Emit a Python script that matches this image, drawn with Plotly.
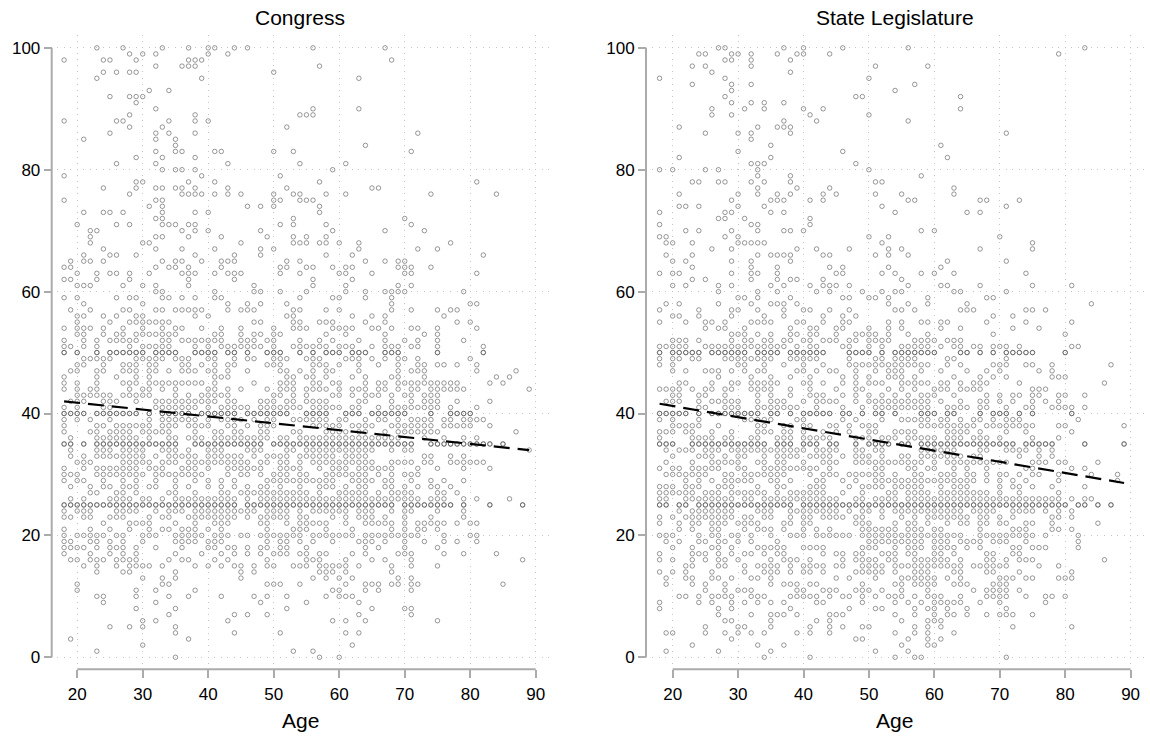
import plotly.graph_objects as go

TITLES = ["Congress", "State Legislature"]
X_LABEL = "Age"
X_TICKS = [20, 30, 40, 50, 60, 70, 80, 90]
Y_TICKS = [0, 20, 40, 60, 80, 100]
FIT_AGE = [18, 89]
FIT_CONGRESS = [42.0, 34.0]
FIT_STATE = [41.6, 28.6]
HEAVY_ROWS = [25, 35, 40, 50]

# Congress: ages observed at each share value
c_100 = [23,27,33,37,40,41,44,46,56,67]
c_099 = [28,30,32,40,43]
c_098 = [18,24,25,29,37,38,39,68]
c_097 = [32,36,37,38,57]
c_096 = [24,26,28,29,50]
c_095 = [23,39,63]
c_093 = [31,34]
c_092 = [25,28,29,30]
c_091 = [29]
c_090 = [32,56,63]
c_089 = [28,38,54,55,56]
c_088 = [18,26,27,34,38,40]
c_087 = [28,33,52]
c_086 = [25,32,34,38,72]
c_085 = [21,32,35]
c_084 = [35,64]
c_083 = [32,35,36,41,42,50,53,71]
c_082 = [29,33,38]
c_081 = [26,32,43,54,61]
c_080 = [33,35,36,38,59]
c_079 = [18,39,51]
c_078 = [29,30,37,41,57,81]
c_077 = [24,29,32,33,35,36,38,43,52,65,66]
c_076 = [28,36,37,38,39,41,43,45,50,53,54,58,61,74,84]
c_075 = [18,32,33,50,51,54,55,56]
c_074 = [31,33,46,48,50,57]
c_073 = [21,24,25,27,33,38,40,57]
c_072 = [32,33,53,70]
c_071 = [20,26,28,33,34,35,37,38,51,53,58,71]
c_070 = [22,23,36,38,40,48,59,67,73]
c_069 = [22,32,33,37,42,49,53,55,58]
c_068 = [22,30,31,45,53,54,55,57,58,60,63,77]
c_067 = [24,32,36,41,48,50,63,72,75]
c_066 = [21,25,26,29,38,44,48,58,62,82]
c_065 = [19,21,22,24,33,35,36,39,42,43,44,52,54,64,67,69,70]
c_064 = [18,19,32,34,35,37,42,51,52,55,56,59,61,62,69,70,71,74]
c_063 = [20,23,25,26,28,31,36,37,38,41,43,44,45,51,54,60,61,65,70,71,81]
c_062 = [18,19,23,28,37,44,56,62]
c_061 = [20,21,22,27,30,32,37,47,56,61,69,71]
c_060 = [32,33,41,47,48,51,55,61,64,67,68,69,70,79]
c_059 = [18,20,26,28,29,33,34,36,38,41,42,54,59,60,64,68]
c_058 = [21,30,43,46,48,52,68,80,81]
c_057 = [19,22,27,28,32,33,35,36,37,38,39,43,45,46,47,53,54,58,60,68,71,75,77,78]
c_056 = [20,21,24,26,29,30,38,40,52,53,62,65,67,76]
c_055 = [20,25,28,29,30,31,32,33,34,47,48,53,54,57,58,59,64,67,78,80]
c_054 = [18,20,21,22,24,27,30,33,35,36,39,42,45,50,53,54,55,59,60,61,62,65,66,68,71,72,75,81]
c_053 = [20,21,24,26,27,29,30,31,32,33,34,35,41,42,45,47,48,50,51,58,61,67,73,75]
c_052 = [18,21,23,25,26,27,28,29,33,34,36,37,38,39,40,41,42,45,46,47,49,50,54,57,59,63,67,70,72,75,79]
c_051 = [18,19,21,23,28,30,31,32,33,34,38,40,42,43,44,45,46,47,48,50,53,54,55,56,57,58,60,61,62,65,67,68,69,71,72,75,82]
c_050 = [18,20,23,25,26,27,28,29,30,32,33,34,35,38,39,40,41,43,44,46,49,50,51,54,56,58,59,60,62,63,64,67,68,69,75,82]
c_049 = [21,22,23,24,25,29,30,31,32,33,35,36,37,40,41,44,46,47,50,51,52,55,56,57,61,62,63,65,67,69,70,72,80]
c_048 = [20,21,24,27,28,29,31,32,36,37,39,41,43,44,49,50,51,56,57,58,60,63,66,69,72,73,75,76,78,81]
c_047 = [19,20,23,24,27,28,29,31,32,34,36,37,38,40,41,43,46,51,52,54,56,58,59,63,69,71,72,73,81,87]
c_046 = [18,23,26,29,31,41,42,43,52,53,55,56,58,62,64,68,69,73,84,86]
c_045 = [18,20,23,27,28,29,31,32,33,34,35,36,37,38,39,41,47,51,52,53,56,57,59,60,64,66,67,69,70,71,72,73,74,75,76,77,78,83,85]
c_044 = [18,20,22,23,28,30,31,33,35,40,41,43,45,49,51,52,53,55,56,57,58,60,62,63,64,66,67,69,71,72,74,75,76,77,78,79,89]
c_043 = [20,21,22,23,24,25,27,28,29,30,31,35,37,39,40,41,42,43,50,51,53,55,59,60,62,64,65,66,68,70,71,73,74,75]
c_042 = [19,20,21,24,25,26,29,32,33,34,35,36,37,38,39,40,41,43,44,48,49,50,52,53,55,56,57,58,63,64,68,71,73,74,75,78,83]
c_041 = [18,20,24,25,32,33,34,35,36,37,38,40,42,43,44,45,46,48,49,50,51,52,53,54,56,57,58,59,60,62,63,66,68,69,70,71,72,73,74,75,77,81]
c_040 = [18,19,20,21,23,24,25,26,27,28,29,31,33,34,35,36,37,39,40,41,42,43,44,46,47,48,49,50,51,52,55,56,57,58,61,62,63,65,66,67,68,69,70,74,77,78,79,80]
c_039 = [18,20,22,25,31,33,34,35,36,37,38,40,42,43,44,45,47,49,50,53,54,55,56,57,58,60,61,64,66,67,69,71,72,73,74,76,77,79,80,81,82]
c_038 = [18,23,24,26,27,28,29,30,31,33,34,35,37,38,39,40,43,44,46,48,49,50,56,57,58,59,60,62,63,64,65,68,69,70,71,72,73,74,76,77,78,79,80,83]
c_037 = [18,22,23,25,26,27,28,30,31,32,33,34,38,41,42,44,45,48,49,53,54,58,59,60,61,63,64,67,69,70,71,72,73,74,75,87]
c_036 = [19,23,24,25,26,27,28,29,31,34,35,37,38,39,41,42,43,44,45,46,47,48,49,51,52,54,55,56,57,58,59,60,61,62,63,64,65,66,67,68,69,73,76,79,81]
c_035 = [18,19,21,23,24,25,26,27,28,29,30,31,32,33,34,35,38,39,40,41,42,43,44,45,46,47,48,50,51,52,53,54,55,56,57,58,59,60,61,62,63,64,65,66,67,68,69,70,71,74,75,76,77,78,79,80,81,82,83,85]
c_034 = [19,23,24,25,27,28,29,30,33,34,35,37,40,41,42,46,47,48,52,53,55,56,57,58,59,60,61,62,63,64,65,68,70,71,89]
c_033 = [19,21,23,24,25,26,27,28,29,30,32,34,35,36,37,38,40,41,42,43,44,45,47,49,50,51,52,54,55,56,57,58,59,61,62,63,64,73,74,77,79]
c_032 = [20,21,22,27,28,29,30,31,33,34,35,37,38,39,40,41,42,43,44,45,46,48,49,51,52,54,56,57,58,59,60,61,62,63,64,65,68,69,70,71,73,74,77,78,79,80,81,82]
c_031 = [18,21,23,24,25,26,27,28,29,31,32,33,36,37,38,40,43,44,45,46,47,48,51,52,53,54,57,59,60,61,63,64,65,66,67,68,72,75,79,83]
c_030 = [18,19,20,23,24,25,26,27,28,29,30,32,33,34,35,36,37,38,39,43,45,46,48,50,51,52,54,55,58,59,60,61,62,63,64,66,68,70,71,72]
c_029 = [18,20,21,24,27,29,32,35,38,40,42,44,49,50,51,52,53,54,55,56,57,58,59,62,63,64,65,67,68,71,74,76,79]
c_028 = [19,22,24,25,27,28,29,31,32,35,37,40,42,44,46,48,49,51,54,57,58,59,61,63,64,67,68,70,72,74,75,77]
c_027 = [22,23,26,27,29,34,35,38,42,43,45,46,47,48,49,50,51,52,53,54,55,57,60,61,62,63,64,66,68,69,70,71,75,76,78]
c_026 = [19,21,25,26,27,28,30,31,33,35,36,37,38,39,40,41,42,43,44,46,48,49,50,51,52,53,54,55,56,57,58,59,60,61,62,63,64,65,66,67,68,69,70,71,72,74,75,76,79,81,86]
c_025 = [18,19,20,21,22,23,24,25,26,27,28,29,30,31,32,33,34,35,36,37,38,39,40,41,42,43,44,46,47,48,49,50,51,52,53,54,55,56,57,58,59,60,61,62,63,64,65,66,67,68,70,71,72,73,74,75,76,77,79,83,88]
c_024 = [18,20,21,22,26,27,28,29,32,34,35,36,38,39,40,41,42,43,44,45,46,47,49,50,51,52,54,56,57,58,59,60,61,63,64,65,68,70,71,75,79]
c_023 = [18,19,21,22,25,26,27,31,33,34,37,38,39,40,41,42,43,44,46,48,49,50,51,52,54,55,59,61,63,64,65,67,70,74,79]
c_022 = [24,28,29,30,31,35,38,41,42,43,48,49,52,54,55,56,57,58,61,64,65,66,67,68,70,72,73,74,75,76,78,80,81]
c_021 = [18,22,25,28,31,33,34,36,37,38,40,42,49,53,54,55,58,62,68,70,72,73,75]
c_020 = [18,20,21,22,23,24,26,27,30,31,32,35,36,37,38,39,41,42,43,45,46,48,49,50,51,52,53,54,56,57,58,59,60,61,62,64,65,66,67,68,69,70,71,72,76,80,81]
c_019 = [18,19,22,23,25,27,30,35,36,37,38,40,41,42,49,51,52,54,56,59,63,64,65,67,70,73,76,78,81]
c_018 = [18,19,20,21,23,25,26,27,29,32,36,40,41,43,44,46,48,49,51,52,55,64,66,70,75]
c_017 = [18,22,25,27,29,35,39,42,44,46,48,50,51,52,54,55,57,58,62,64,69,70,71,76,79,84]
c_016 = [19,20,22,23,24,26,27,28,29,34,36,37,41,43,49,55,56,57,61,65,67,71,88]
c_015 = [21,23,26,28,29,30,31,33,38,40,42,44,45,47,49,50,53,54,55,57,58,59,60,61,63,68,71,75]
c_014 = [23,27,28,35,45,47,57,58,59,61,68]
c_013 = [30,33,35,45,56,58,60,62,69,71]
c_012 = [20,33,34,49,50,51,54,61,64,65,66,68,69,71,72,85]
c_011 = [20,29,32,38,59,60,64,66,71]
c_010 = [23,24,29,34,37,42,47,49,52,58,60,61,62]
c_009 = [24,32,48,55,63]
c_008 = [29,35,52,65,70,71]
c_007 = [34,44,46,49,63,71]
c_006 = [30,32,43,59,61,64,75]
c_005 = [25,28,30,35]
c_004 = [35,44,51,61,63]
c_003 = [19,37]
c_002 = [30,62]
c_001 = [23,53,56]
c_000 = [35,57,60]

# State legislature: ages observed at each share value
s_100 = [27,28,37,40,46,56,83]
s_099 = [24,25,29,30,32,36,39,40,44,79]
s_098 = [28,29,32,38]
s_097 = [23,25,32,51,59]
s_096 = [26,38]
s_095 = [18,28,50]
s_094 = [23,29,32,57]
s_093 = [29,54]
s_092 = [28,48,49,64]
s_091 = [29,32,34,37]
s_090 = [26,31,34,40,43,64]
s_089 = [26,29,41,50]
s_088 = [37,42,56]
s_087 = [21,33,36,37,38]
s_086 = [25,30,32,38,71]
s_085 = [32]
s_084 = [35,61]
s_083 = [30,46]
s_082 = [21,35,62]
s_081 = [32,33,34,48]
s_080 = [18,20,25,27,33,50]
s_079 = [33,38,58]
s_078 = [23,24,27,28,32,34,38,51,52]
s_077 = [33,39,44,63]
s_076 = [21,30,33,36,38,43,45,51,55,63]
s_075 = [29,35,36,37,41,43,56,57,67,68,73]
s_074 = [21,22,24,30,34,52,71]
s_073 = [18,28,29,35,37,54,65,67]
s_072 = [27,28,31,41]
s_071 = [18,32,33,41]
s_070 = [22,24,29,33,37,38,40,58,60]
s_069 = [18,19,28,30,50,53,70]
s_068 = [19,20,23,30,31,32,33,34,52,75]
s_067 = [26,29,39,42,47,53,55,67,75]
s_066 = [19,23,33,35,36,37,38,43,44,51,53,56]
s_065 = [20,22,29,32,38,62,71]
s_064 = [23,32,36,44,46,53,61]
s_063 = [18,20,21,29,32,33,36,45,46,52,54,58,60,63,74]
s_062 = [23,25,32,36,38,39,43,55]
s_061 = [20,22,27,29,35,37,41,43,44,45,47,56,61,62,67,75,81]
s_060 = [27,33,36,42,44,49,52,54,55,63,64,71]
s_059 = [30,31,33,38,46,47,50,51,53,59,68,69]
s_058 = [19,21,27,32,35,36,37,39,53,56,59,65,84]
s_057 = [18,24,29,30,33,37,40,41,44,47,54,55,57,64,65,66,74,75,77]
s_056 = [20,21,24,29,34,37,43,46,48,69,72]
s_055 = [18,22,25,26,28,32,33,34,35,39,40,43,46,47,53,55,58,59,61,62,68,74,81]
s_054 = [25,27,28,31,38,41,42,45,46,50,53,55,61,64,72,76]
s_053 = [29,30,31,33,35,38,39,41,42,45,48,49,50,51,53,56,59,69,80]
s_052 = [20,21,22,24,29,31,32,34,35,37,38,40,41,43,44,45,47,48,50,51,52,53,57,58,59,60,62,63,64]
s_051 = [18,19,20,21,22,25,26,27,28,29,30,31,32,33,34,35,36,37,39,41,42,46,47,50,52,55,56,57,58,59,61,63,64,66,67,69,70,71,73,81,82]
s_050 = [18,20,21,22,23,24,26,27,28,29,30,31,33,34,35,36,38,39,40,41,42,43,47,48,49,50,52,54,55,56,57,58,59,60,64,65,67,69,71,72,73,74,75,80]
s_049 = [18,20,21,23,24,28,29,30,31,32,33,34,35,38,39,40,41,42,47,51,52,54,55,56,57,62,63,71]
s_048 = [18,20,30,31,34,37,40,43,47,48,49,50,51,52,53,54,55,56,57,58,59,62,64,69,70,71,74,75,78,87]
s_047 = [20,22,25,26,27,29,31,33,34,39,40,42,44,45,48,51,53,54,55,58,61,65,68,70,76,78]
s_046 = [27,32,35,38,41,46,48,50,53,54,55,57,63,67,69,71,78,79,80]
s_045 = [21,22,26,29,30,32,33,34,35,36,40,41,43,46,48,50,51,52,55,56,57,58,59,61,62,64,66,67,68,73,86]
s_044 = [18,19,20,21,23,25,26,28,29,32,33,34,35,38,41,45,48,49,53,55,57,60,61,62,64,65,66,67,75,76,77]
s_043 = [20,21,24,25,28,33,35,38,41,42,43,46,48,50,52,54,56,58,59,60,63,68,70,72,73,75,76,79,80,83]
s_042 = [19,20,21,24,26,27,28,29,30,33,35,36,37,40,42,43,44,45,48,50,51,52,53,54,55,56,57,58,59,61,64,67,68,70,72,75,77,79]
s_041 = [24,25,28,29,30,33,34,35,36,37,38,39,42,46,49,51,52,53,54,55,56,57,58,59,62,63,64,65,67,68,71,74,75,78,79,80,81,83]
s_040 = [18,19,20,21,22,24,26,27,28,29,30,31,32,33,35,36,38,40,41,42,43,44,46,47,49,51,52,54,58,59,60,62,63,67,69,70,71,73,75,81]
s_039 = [18,20,24,31,32,33,34,35,39,40,46,48,52,55,56,57,58,59,61,62,64,66,67,69,71,72,73,82]
s_038 = [20,21,22,23,24,27,33,34,37,38,40,41,44,45,47,49,50,51,58,59,60,61,62,63,64,65,66,68,69,70,71,72,73,74,75,79,80,89]
s_037 = [18,19,20,22,23,26,29,33,34,35,37,38,40,43,45,47,50,51,54,55,56,57,62,63,64,65,67,71,74,81]
s_036 = [18,23,24,25,26,28,29,32,33,36,37,38,40,41,42,43,44,48,49,50,52,53,54,56,57,58,59,60,62,63,64,66,67,68,70,75,79]
s_035 = [18,19,20,23,24,25,26,27,28,29,30,31,32,33,34,36,37,38,40,41,42,44,45,48,50,51,52,53,55,56,58,59,60,61,62,63,64,65,66,67,68,69,70,71,72,74,75,76,77,78,83,89]
s_034 = [19,21,22,23,25,26,27,29,30,31,32,33,34,35,36,37,38,39,40,42,43,44,45,48,49,51,52,58,59,60,61,62,63,67,68,71,72,73,74,76,78]
s_033 = [20,24,25,26,28,30,31,34,36,37,38,39,41,42,43,44,46,48,49,50,52,55,56,58,59,60,61,62,63,64,66,67,73,76,78]
s_032 = [19,23,26,27,28,29,30,33,34,36,37,40,43,44,45,48,49,50,51,52,53,54,55,56,57,58,60,62,63,64,65,66,67,68,69,70,71,75,76,77,79,80,85]
s_031 = [18,20,21,23,24,25,26,27,30,31,34,35,36,37,38,39,40,41,42,44,51,52,56,57,59,60,63,65,68,74,75,81,83]
s_030 = [19,20,21,22,23,24,25,28,29,31,32,33,34,35,36,37,41,43,44,45,47,48,49,50,51,52,54,57,58,61,62,63,65,66,68,70,71,73,75,76,79,84,88]
s_029 = [22,24,26,28,29,30,31,32,35,36,38,42,43,46,48,51,52,53,54,55,56,57,58,59,60,61,62,63,64,65,66,68,70,72,74,79,88]
s_028 = [18,19,20,22,23,24,27,28,29,33,36,37,41,42,43,47,49,50,51,52,54,55,56,57,58,61,63,64,65,70,72,73,75,78,83]
s_027 = [18,19,20,21,22,23,25,26,27,29,30,31,32,33,34,36,38,39,40,41,42,43,46,49,53,54,56,57,58,59,61,62,63,64,65,66,67,68,70,73,79]
s_026 = [18,19,22,23,24,25,26,27,28,29,31,32,34,35,36,37,38,39,40,41,42,43,44,45,48,49,51,52,53,54,56,57,58,59,60,61,62,63,64,65,66,67,68,69,70,71,72,73,74,75,76,77,78,79,81,83,84]
s_025 = [18,19,21,22,24,25,26,27,28,29,30,31,32,33,34,35,36,37,38,40,41,42,43,44,45,46,47,48,49,50,51,52,53,54,55,56,57,58,59,60,61,62,63,64,65,66,67,68,69,70,71,72,73,74,75,76,77,78,79,80,82,83,85,87]
s_024 = [21,23,24,25,26,27,28,29,33,34,35,38,39,40,41,42,43,44,45,47,49,50,52,54,55,56,57,58,59,60,61,62,63,64,66,67,68,69,72,73,74,75,77,79,81]
s_023 = [18,20,22,23,24,25,26,27,28,29,31,32,34,35,38,40,41,43,44,45,46,48,49,52,55,57,59,60,61,62,63,64,65,67,68,70,72,78,79,81]
s_022 = [18,21,23,24,26,27,28,30,31,32,33,37,38,40,41,48,49,50,54,56,57,59,62,64,65,67,68,70,71,74,75,78,85]
s_021 = [21,23,26,27,31,33,34,35,37,40,42,44,49,50,51,52,53,54,56,57,58,60,61,67,72,73,74,78,79,81]
s_020 = [18,19,20,24,26,27,29,30,32,35,38,39,40,42,43,44,45,46,47,49,50,51,52,53,54,55,56,57,58,59,60,61,62,63,64,67,68,69,70,71,72,73,74,75,77,82]
s_019 = [19,21,24,25,27,28,30,32,36,50,51,52,53,54,55,56,57,58,60,61,62,64,65,66,67,69,70,71,74,82]
s_018 = [20,23,26,27,29,33,34,35,36,37,40,41,42,43,49,50,51,54,56,57,58,60,61,62,63,65,67,72,73,75,76,77,82]
s_017 = [18,23,24,25,27,29,31,32,34,36,37,43,45,46,48,49,52,53,54,56,57,60,61,63,68,69,72,73]
s_016 = [18,20,23,25,27,28,30,35,37,38,39,41,46,48,49,50,51,53,54,57,58,59,60,61,62,64,68,69,71,73,74,75,86]
s_015 = [22,23,27,28,31,33,34,35,36,38,40,41,42,43,45,46,49,50,51,52,54,55,56,57,58,59,60,61,62,63,64,66,67,68,69,70,71,76,79]
s_014 = [18,20,22,26,31,34,35,36,38,40,41,43,48,49,50,51,52,54,57,58,59,63,64,68,69,73,81]
s_013 = [19,22,23,26,27,29,32,33,35,45,47,51,55,56,57,58,59,60,62,64,70,71,72,74,75,79,80,81]
s_012 = [19,23,25,28,35,37,38,39,41,42,49,54,55,57,58,59,60,63,64,65,69,70,71]
s_011 = [25,28,30,31,32,39,40,43,44,45,48,49,50,52,55,59,66,68,69,70,71,73]
s_010 = [21,22,24,26,27,28,29,32,33,34,38,39,40,41,42,44,46,47,49,51,53,54,55,57,59,60,61,64,68,69,70,71,74,77,78,80]
s_009 = [18,24,26,29,31,33,35,37,42,43,49,54,56,58,60,61,62,63,64,67,70,77]
s_008 = [18,27,29,38,47,51,52,57,59,60,62,65,71]
s_007 = [27,32,35,36,37,39,44,45,46,54,57,60,62,63,65,68,70,71,72,75]
s_006 = [28,29,35,42,44,55,59,60,61]
s_005 = [25,30,31,35,41,44,46,49,50,57,59,61,72,81]
s_004 = [19,20,25,28,30,32,34,39,41,44,54,57,59,63]
s_003 = [29,48,49,56,59,61]
s_002 = [23,33,37,55,59,60]
s_001 = [19,27,35,51,56]
s_000 = [34,41,54,57,58,71]

W, H = 1150, 738
AXIS = "#ababab"
GRID = "#c4c4c4"
MARK = "rgba(70,70,70,0.55)"


def rows(prefix):
    ages, shares = [], []
    for v in range(0, 101):
        row = globals().get(f"{prefix}_{v:03d}", [])
        repeat = 2 if v in HEAVY_ROWS else 1
        for _ in range(repeat):
            ages.extend(row)
            shares.extend([v] * len(row))
    return ages, shares


fig = go.Figure()
panels = [
    dict(prefix="c", fit=FIT_CONGRESS, x="x", y="y", plot=(57, 550), axis_px=51.7, centre=300,
         xrange=[16.916, 92.18]),
    dict(prefix="s", fit=FIT_STATE, x="x2", y="y2", plot=(652, 1145), axis_px=646, centre=895,
         xrange=[16.84, 92.2]),
]
Y_RANGE = [-1.148, 102.13]
PLOT_TOP, PLOT_BOTTOM, XAXIS_PX = 35, 667, 672

layout_axes = {}
shapes, annotations = [], []
for i, p in enumerate(panels):
    ages, shares = rows(p["prefix"])
    fig.add_trace(go.Scatter(
        x=ages, y=shares, mode="markers", xaxis=p["x"], yaxis=p["y"], showlegend=False,
        marker=dict(symbol="circle-open", size=4.5, color=MARK, line=dict(width=1, color=MARK)),
    ))
    fig.add_trace(go.Scatter(
        x=FIT_AGE, y=p["fit"], mode="lines", xaxis=p["x"], yaxis=p["y"], showlegend=False,
        line=dict(color="black", width=2.2, dash="16px,8px"),
    ))
    suffix = "" if i == 0 else "2"
    layout_axes[f"xaxis{suffix}"] = dict(
        domain=[p["plot"][0] / W, p["plot"][1] / W], range=p["xrange"], anchor="free",
        position=1 - XAXIS_PX / H, tickmode="array", tickvals=X_TICKS, ticks="outside", ticklen=8,
        tickwidth=1.5, tickcolor=AXIS, showline=False, zeroline=False, showgrid=True,
        gridcolor=GRID, gridwidth=1, griddash="1px,5.1px", ticklabelstandoff=1,
        tickfont=dict(family="Liberation Sans", size=17, color="black"),
    )
    layout_axes[f"yaxis{suffix}"] = dict(
        domain=[1 - PLOT_BOTTOM / H, 1 - PLOT_TOP / H], range=Y_RANGE, anchor="free",
        position=p["axis_px"] / W, tickmode="array", tickvals=Y_TICKS, ticks="outside", ticklen=8,
        tickwidth=1.5, tickcolor=AXIS, showline=False, zeroline=False, showgrid=True,
        gridcolor=GRID, gridwidth=1, griddash="1px,5.55px",
        tickfont=dict(family="Liberation Sans", size=17, color="black"),
    )
    shapes.append(dict(type="line", xref="paper", yref=p["y"], x0=p["axis_px"] / W, x1=p["axis_px"] / W,
                       y0=Y_TICKS[0], y1=Y_TICKS[-1], line=dict(color=AXIS, width=2)))
    shapes.append(dict(type="line", xref=p["x"], yref="paper", x0=X_TICKS[0], x1=X_TICKS[-1],
                       y0=1 - XAXIS_PX / H, y1=1 - XAXIS_PX / H, line=dict(color=AXIS, width=2)))
    annotations.append(dict(text=TITLES[i], xref="paper", yref="paper", x=p["centre"] / W, y=1 - 18 / H,
                            xanchor="center", yanchor="middle", showarrow=False,
                            font=dict(family="Liberation Sans", size=21, color="black")))
    annotations.append(dict(text=X_LABEL, xref="paper", yref="paper", x=p["centre"] / W, y=1 - 723 / H,
                            xanchor="center", yanchor="middle", showarrow=False,
                            font=dict(family="Liberation Sans", size=21, color="black")))

fig.update_layout(
    width=W, height=H, autosize=False, margin=dict(l=0, r=0, t=0, b=0),
    paper_bgcolor="white", plot_bgcolor="white", shapes=shapes, annotations=annotations,
    **layout_axes,
)
fig.write_html("out.html", config={"displayModeBar": False},
               post_script="document.body.style.margin='0';")
